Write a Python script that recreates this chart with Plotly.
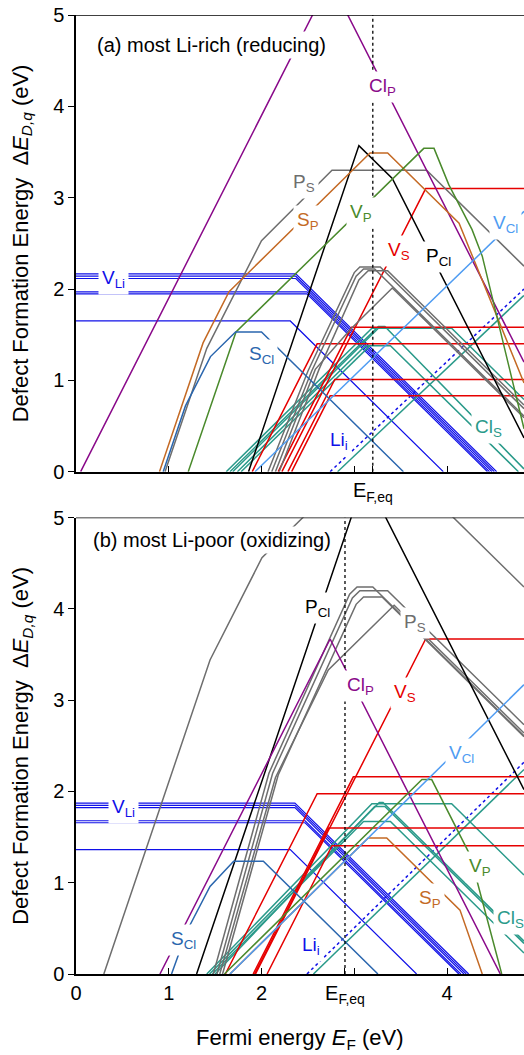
import plotly.graph_objects as go

FONT = "Liberation Sans, Arial, Helvetica, sans-serif"

# colours of the defect families
COL = {
    "V_Li": "#1010e8",
    "Li_i": "#1010e8",
    "Cl_S": "#2a9a8a",
    "V_S": "#e60000",
    "P_S": "#6e6e6e",
    "P_Cl": "#000000",
    "Cl_P": "#8a0a8a",
    "S_P": "#c46a25",
    "V_P": "#4a8a2c",
    "S_Cl": "#2a66ae",
    "V_Cl": "#4f9cf2",
}

# Fermi-level positions at equilibrium
EF_EQ_A = 3.2
EF_EQ_B = 2.9
X_MAX = 4.83

# ---------------- (a) most Li-rich: vertices (E_F, dE) of each configuration
A_V_LI = [
    [(0, 2.165), (2.37, 2.165), (4.535, 0)],
    [(0, 2.14), (2.37, 2.14), (4.51, 0)],
    [(0, 2.115), (2.37, 2.115), (4.485, 0)],
    [(0, 1.968), (2.49, 1.968), (4.458, 0)],
    [(0, 1.946), (2.49, 1.946), (4.436, 0)],
    [(0, 1.65), (2.31, 1.65), (3.96, 0)],
]
A_LI_I = [[(2.74, 0), (4.83, 2.0)]]
A_CL_S = [
    [(1.62, 0), (3.19, 1.57), (4.05, 1.57), (4.83, 0.79)],
    [(1.66, 0), (3.26, 1.59), (3.33, 1.59), (4.83, 0.03)],
    [(1.74, 0), (3.12, 1.38), (3.39, 1.38), (4.77, 0)],
    [(1.69, 0), (3.26, 1.57)],
    [(1.78, 0), (3.17, 1.38)],
    [(2.82, 0), (4.83, 1.93)],
]
A_V_S = [
    [(2.22, 0), (3.77, 3.10), (4.83, 3.10)],
    [(2.18, 0), (2.97, 1.58), (4.83, 1.58)],
    [(1.90, 0), (2.60, 1.40), (4.83, 1.40)],
    [(2.285, 0), (2.79, 1.01), (4.83, 1.01)],
    [(2.325, 0), (2.74, 0.83), (4.83, 0.83)],
]
A_P_S = [
    [(0.96, 0), (1.41, 1.35), (2.0, 2.53), (2.76, 3.30), (3.78, 3.30), (4.83, 2.25)],
    [(2.07, 0), (2.50, 1.10), (3.00, 2.18), (3.06, 2.24), (3.28, 2.24), (4.83, 0.69)],
    [(2.11, 0), (2.54, 1.10), (3.02, 2.14), (3.10, 2.22), (3.22, 2.22), (4.83, 0.61)],
    [(2.15, 0), (2.58, 1.12), (2.96, 1.56), (3.41, 2.01), (4.83, 0.59)],
    [(2.19, 0), (2.62, 1.12), (3.05, 2.10), (3.15, 2.20), (3.36, 2.20), (4.83, 0.73)],
]
A_P_CL = [[(1.86, 0), (3.05, 3.57), (3.41, 3.21), (4.83, 0.37)]]
A_CL_P = [[(0.05, 0), (2.74, 5.38), (4.83, 1.20)]]
A_S_P = [[(0.90, 0), (1.37, 1.41), (1.65, 1.97), (3.17, 3.49), (3.36, 3.49),
          (4.13, 2.72), (4.83, 0.97)]]
A_V_P = [[(1.21, 0), (1.725, 1.53), (3.75, 3.54), (3.86, 3.54), (4.02, 3.14),
          (4.27, 2.65), (4.38, 2.36), (4.83, 0.47)]]
A_S_CL = [[(0.94, 0), (1.18, 0.72), (1.45, 1.26), (1.72, 1.53), (2.0, 1.53), (3.53, 0)]]
A_V_CL = [[(1.93, 0), (4.83, 2.85)]]

A_LABELS = [
    ("V<sub>Li</sub>", 0.40, 2.14, "V_Li"),
    ("P<sub>S</sub>", 2.455, 3.19, "P_S"),
    ("S<sub>P</sub>", 2.50, 2.78, "S_P"),
    ("V<sub>P</sub>", 3.07, 2.87, "V_P"),
    ("Cl<sub>P</sub>", 3.30, 4.25, "Cl_P"),
    ("V<sub>S</sub>", 3.48, 2.45, "V_S"),
    ("P<sub>Cl</sub>", 3.91, 2.38, "P_Cl"),
    ("V<sub>Cl</sub>", 4.63, 2.74, "V_Cl"),
    ("S<sub>Cl</sub>", 2.00, 1.31, "S_Cl"),
    ("Li<sub>i</sub>", 2.84, 0.37, "Li_i"),
    ("Cl<sub>S</sub>", 4.45, 0.51, "Cl_S"),
]

# ---------------- (b) most Li-poor
B_V_LI = [
    [(0, 1.873), (2.36, 1.873), (4.233, 0)],
    [(0, 1.847), (2.36, 1.847), (4.207, 0)],
    [(0, 1.822), (2.36, 1.822), (4.182, 0)],
    [(0, 1.679), (2.47, 1.679), (4.149, 0)],
    [(0, 1.657), (2.47, 1.657), (4.127, 0)],
    [(0, 1.362), (2.31, 1.362), (3.672, 0)],
]
B_LI_I = [[(2.49, 0), (4.83, 2.32)]]
B_CL_S = [
    [(1.41, 0), (3.19, 1.865), (4.05, 1.865), (4.83, 1.085)],
    [(1.44, 0), (3.27, 1.88), (3.31, 1.88), (4.83, 0.36)],
    [(1.47, 0), (3.10, 1.67), (3.39, 1.67), (4.83, 0.23)],
    [(1.50, 0), (3.22, 1.835), (3.33, 1.835), (4.83, 0.335)],
    [(2.56, 0), (4.83, 2.24)],
]
B_V_S = [
    [(1.935, 0), (3.77, 3.67), (4.83, 3.67)],
    [(1.91, 0), (2.99, 2.16), (4.83, 2.16)],
    [(1.61, 0), (2.60, 1.975), (4.83, 1.975)],
    [(1.925, 0), (2.725, 1.60), (4.83, 1.60)],
    [(2.06, 0), (2.76, 1.406), (4.83, 1.406)],
]
B_P_S = [
    [(0.30, 0), (1.445, 3.44), (2.005, 4.56), (2.735, 5.29), (3.78, 5.29), (4.83, 4.24)],
    [(1.48, 0), (2.08, 2.20), (2.95, 4.16), (3.03, 4.24), (3.20, 4.24), (4.83, 2.61)],
    [(1.52, 0), (2.12, 2.20), (2.98, 4.12), (3.06, 4.20), (3.36, 4.20), (4.83, 2.73)],
    [(1.55, 0), (2.15, 2.15), (2.72, 3.33), (3.43, 4.04), (4.83, 2.64)],
    [(1.58, 0), (2.18, 2.18), (3.02, 4.05), (3.10, 4.13), (3.30, 4.13), (4.83, 2.60)],
]
B_P_CL = [[(1.30, 0), (3.07, 5.31), (3.30, 5.08), (4.83, 2.02)]]
B_CL_P = [[(0.905, 0), (2.74, 3.67), (4.575, 0)]]
B_S_P = [[(1.66, 0), (3.15, 1.49), (3.35, 1.49), (4.14, 0.70), (4.38, 0)]]
B_V_P = [[(1.60, 0), (3.73, 2.13), (3.835, 2.13), (4.25, 1.30), (4.59, 0)]]
B_S_CL = [[(1.03, 0), (1.20, 0.48), (1.445, 0.96), (1.70, 1.235), (2.02, 1.235), (3.255, 0)]]
B_V_CL = [[(1.66, 0), (4.83, 3.17)]]

B_LABELS = [
    ("V<sub>Li</sub>", 0.51, 1.85, "V_Li"),
    ("S<sub>Cl</sub>", 1.157, 0.41, "S_Cl"),
    ("P<sub>Cl</sub>", 2.60, 4.04, "P_Cl"),
    ("Cl<sub>P</sub>", 3.065, 3.19, "Cl_P"),
    ("V<sub>S</sub>", 3.55, 3.11, "V_S"),
    ("P<sub>S</sub>", 3.66, 3.88, "P_S"),
    ("V<sub>Cl</sub>", 4.16, 2.44, "V_Cl"),
    ("V<sub>P</sub>", 4.355, 1.20, "V_P"),
    ("S<sub>P</sub>", 3.82, 0.85, "S_P"),
    ("Cl<sub>S</sub>", 4.68, 0.63, "Cl_S"),
    ("Li<sub>i</sub>", 2.53, 0.34, "Li_i"),
]

PANEL_A = {
    "V_Li": A_V_LI, "Li_i": A_LI_I, "Cl_S": A_CL_S, "V_S": A_V_S, "P_S": A_P_S,
    "P_Cl": A_P_CL, "Cl_P": A_CL_P, "S_P": A_S_P, "V_P": A_V_P, "S_Cl": A_S_CL,
    "V_Cl": A_V_CL,
}
PANEL_B = {
    "V_Li": B_V_LI, "Li_i": B_LI_I, "Cl_S": B_CL_S, "V_S": B_V_S, "P_S": B_P_S,
    "P_Cl": B_P_CL, "Cl_P": B_CL_P, "S_P": B_S_P, "V_P": B_V_P, "S_Cl": B_S_CL,
    "V_Cl": B_V_CL,
}

# panel placement (paper fractions)
DOM_A = [0.5238, 1.0]
DOM_B = [0.0, 0.4759]

fig = go.Figure()


def add_panel(panel, xa, ya, ef):
    for name, lines in panel.items():
        width = 1.2 if name == "V_Li" else 1.5
        for pts in lines:
            fig.add_trace(go.Scatter(
                x=[p[0] for p in pts], y=[p[1] for p in pts],
                mode="lines", xaxis=xa, yaxis=ya, showlegend=False,
                hoverinfo="skip",
                line=dict(color=COL[name], width=width,
                          dash="dot" if name == "Li_i" else "solid"),
            ))
    fig.add_trace(go.Scatter(
        x=[ef, ef], y=[0, 5], mode="lines", xaxis=xa, yaxis=ya,
        showlegend=False, hoverinfo="skip",
        line=dict(color="black", width=1.3, dash="dot"),
    ))


add_panel(PANEL_A, "x", "y", EF_EQ_A)
add_panel(PANEL_B, "x2", "y2", EF_EQ_B)

annotations = []
for labels, xr, yr in ((A_LABELS, "x", "y"), (B_LABELS, "x2", "y2")):
    for text, lx, ly, name in labels:
        annotations.append(dict(
            text=text, x=lx, y=ly, xref=xr, yref=yr, showarrow=False,
            xanchor="center", yanchor="middle", yshift=-3,
            font=dict(family=FONT, size=19, color=COL[name]),
            bgcolor="white", borderpad=3,
        ))

annotations += [
    dict(text="(a) most Li-rich (reducing)", x=1.46, y=4.67, xref="x", yref="y",
         showarrow=False, xanchor="center", yanchor="middle",
         font=dict(family=FONT, size=20, color="black"), bgcolor="white", borderpad=2),
    dict(text="(b) most Li-poor (oxidizing)", x=1.47, y=4.75, xref="x2", yref="y2",
         showarrow=False, xanchor="center", yanchor="middle",
         font=dict(family=FONT, size=20, color="black"), bgcolor="white", borderpad=2),
]

YTITLE = "Defect Formation Energy\u00a0\u00a0\u0394<i>E</i><sub><i>D,q</i></sub> (eV)"
for dom in (DOM_A, DOM_B):
    annotations.append(dict(
        text=YTITLE, x=0, xref="paper", xshift=-54, xanchor="center",
        y=(dom[0] + dom[1]) / 2, yref="paper", yanchor="middle",
        textangle=-90, showarrow=False,
        font=dict(family=FONT, size=22, color="black"),
    ))
annotations.append(dict(
    text="Fermi energy <i>E</i><sub>F</sub> (eV)", x=0.5, xref="paper",
    y=0, yref="paper", yshift=-65, xanchor="center", yanchor="middle",
    showarrow=False, font=dict(family=FONT, size=22, color="black"),
))

axis_common = dict(
    showline=True, linecolor="black", linewidth=1.5, showgrid=False,
    zeroline=False, tickcolor="black", tickwidth=1.3, ticklen=6,
    tickfont=dict(family=FONT, size=20, color="black"),
)

fig.update_layout(
    width=524, height=1055,
    margin=dict(l=76, r=0, t=15, b=81),
    paper_bgcolor="white", plot_bgcolor="white",
    xaxis=dict(domain=[0, 1], anchor="y", range=[0, X_MAX], ticks="inside",
               tickvals=[0, 1, 2, 3, EF_EQ_A, 4],
               ticktext=["", "", "", "", "E<sub>F,eq</sub>", ""], **axis_common),
    yaxis=dict(domain=DOM_A, anchor="x", range=[0, 5], ticks="outside",
               tickvals=[0, 1, 2, 3, 4, 5], **axis_common),
    xaxis2=dict(domain=[0, 1], anchor="y2", range=[0, X_MAX], ticks="inside",
                tickvals=[0, 1, 2, EF_EQ_B, 3, 4],
                ticktext=["0", "1", "2", "E<sub>F,eq</sub>", "", "4"], **axis_common),
    yaxis2=dict(domain=DOM_B, anchor="x2", range=[0, 5], ticks="outside",
                tickvals=[0, 1, 2, 3, 4, 5], **axis_common),
    annotations=annotations,
    shapes=[
        dict(type="line", xref="x", yref="y", x0=0, x1=X_MAX, y0=5, y1=5,
             line=dict(color="black", width=1.5)),
        dict(type="line", xref="x2", yref="y2", x0=0, x1=X_MAX, y0=5, y1=5,
             line=dict(color="black", width=1.5)),
    ],
)

fig.write_html("out.html")
